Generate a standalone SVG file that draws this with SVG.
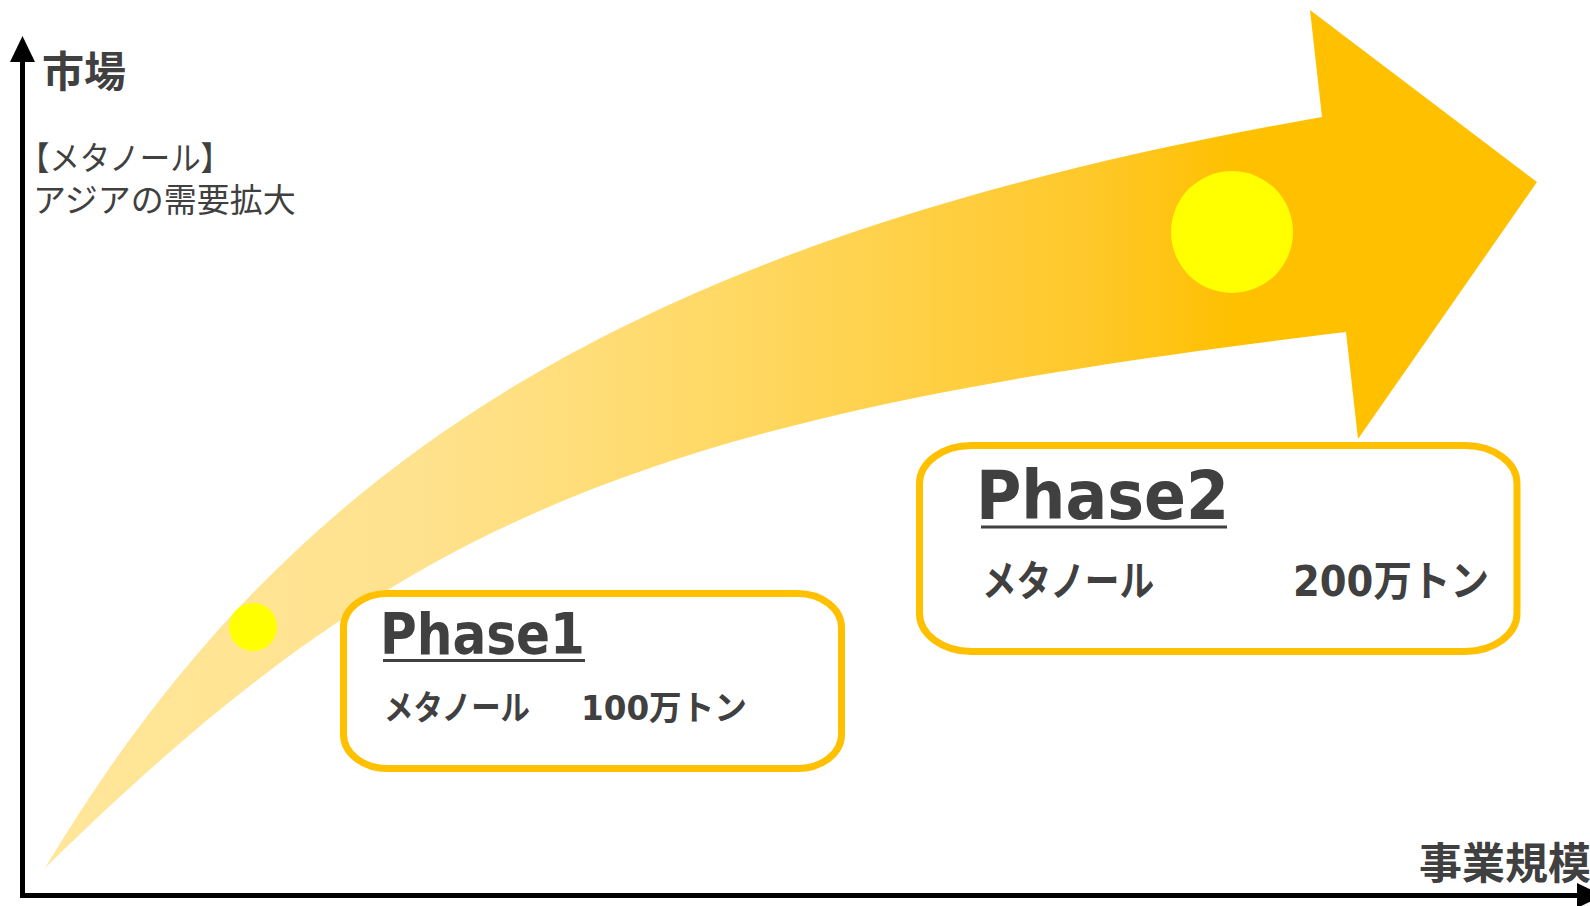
<svg xmlns="http://www.w3.org/2000/svg" width="1590" height="906" viewBox="0 0 1590 906">
  <defs>
    <linearGradient id="flow" gradientUnits="userSpaceOnUse" x1="45" y1="0" x2="1537" y2="0">
      <stop offset="0" stop-color="#FFE699"/>
      <stop offset="0.25" stop-color="#FFE28E"/>
      <stop offset="0.45" stop-color="#FFD966"/>
      <stop offset="0.7" stop-color="#FFC82A"/>
      <stop offset="0.8" stop-color="#FFC000"/>
      <stop offset="1" stop-color="#FFC000"/>
    </linearGradient>
    <style>
      .ax { stroke: #000; stroke-width: 5; fill: none; }
      .axh { fill: #000; }
      .box { fill: #FFFFFF; stroke: #FFC000; stroke-width: 7; }
      .dot { fill: #FFFF00; }
      .t { fill: #404040; font-family: "Noto Sans CJK JP", "Noto Sans CJK SC", sans-serif; }
      .b { font-weight: bold; }
      .ph { fill: #404040; font-family: "DejaVu Sans", "Noto Sans CJK JP", sans-serif; font-weight: bold; }
      .ul { fill: #404040; }
    </style>
  </defs>
  <rect width="1590" height="906" fill="#FFFFFF"/>

  <g id="growth-arrow">
    <path d="M45,868 C289,460 632,238 1322,117 L1310,10 L1537,182 L1358,439 L1346,332 C651,416 410,510 45,868 Z" fill="url(#flow)"/>
    <circle class="dot" cx="253" cy="627" r="24"/>
    <circle class="dot" cx="1232" cy="232" r="61"/>
  </g>

  <g id="connectors">
    <line class="ax" x1="22.5" y1="60" x2="22.5" y2="898"/>
    <polygon class="axh" points="22.5,36 10,62 35,62"/>
    <line class="ax" x1="20" y1="895.5" x2="1580" y2="895.5"/>
    <polygon class="axh" points="1577,883 1603,895.5 1577,908"/>
  </g>

  <g id="label-market">
    <text class="t b" x="42" y="87" font-size="42">市場</text>
    <text class="t" x="19" y="170" font-size="33" textLength="212" lengthAdjust="spacingAndGlyphs">【メタノール】</text>
    <text class="t" x="33" y="212" font-size="33">アジアの需要拡大</text>
  </g>

  <g id="label-scale">
    <text class="t b" x="1419" y="879" font-size="43">事業規模</text>
  </g>

  <g id="phase1">
    <rect class="box" x="343.5" y="593.5" width="498" height="175" rx="44" ry="34"/>
    <text class="ph" x="380" y="654" font-size="57" textLength="205" lengthAdjust="spacingAndGlyphs">Phase1</text>
    <rect class="ul" x="383" y="659" width="202" height="3"/>
    <text class="ph" x="384" y="720" font-size="34" textLength="146" lengthAdjust="spacingAndGlyphs">メタノール</text>
    <text class="ph" x="581" y="720" font-size="34" textLength="166" lengthAdjust="spacingAndGlyphs">100万トン</text>
  </g>

  <g id="phase2">
    <rect class="box" x="919.5" y="445.5" width="597.5" height="206" rx="52" ry="38"/>
    <text class="ph" x="976" y="519" font-size="67" textLength="253" lengthAdjust="spacingAndGlyphs">Phase2</text>
    <rect class="ul" x="981" y="525.5" width="246" height="3"/>
    <text class="ph" x="982" y="596" font-size="42" textLength="172" lengthAdjust="spacingAndGlyphs">メタノール</text>
    <text class="ph" x="1293" y="596" font-size="42" textLength="196" lengthAdjust="spacingAndGlyphs">200万トン</text>
  </g>
</svg>
